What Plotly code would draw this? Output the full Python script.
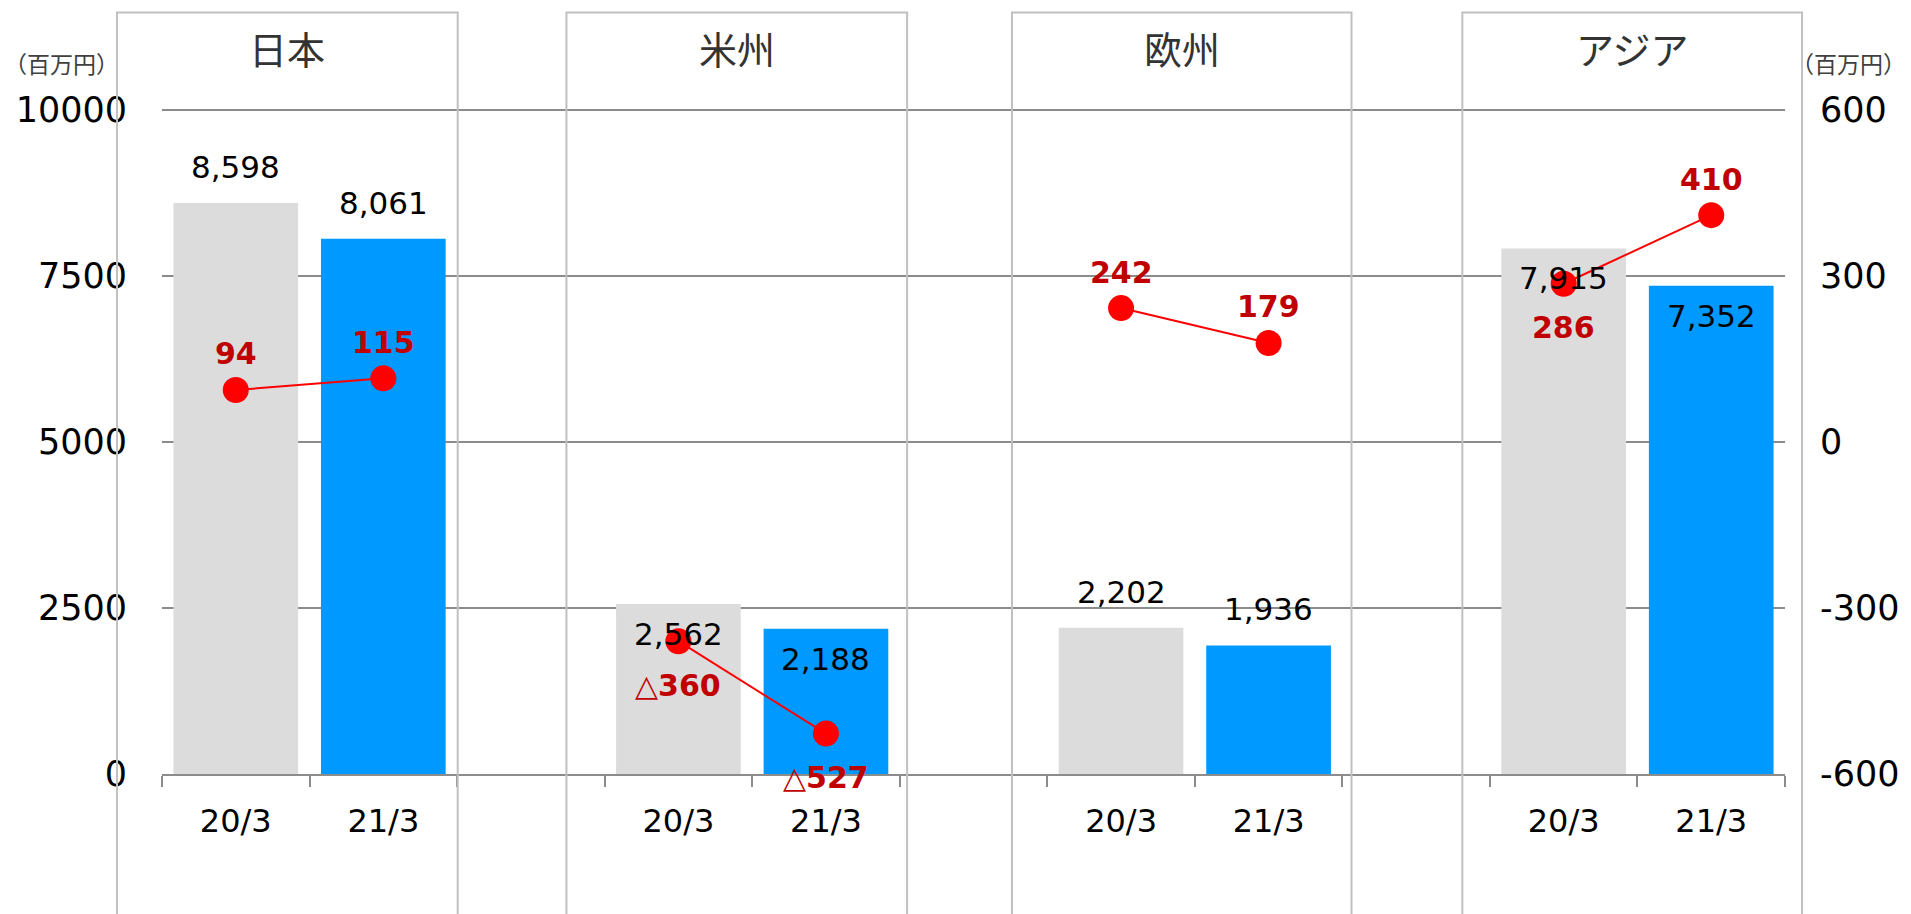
import plotly.graph_objects as go

# ---- data ----
regions = ["日本", "米州", "欧州", "アジア"]
periods = ["20/3", "21/3"]
sales_20 = [8598, 2562, 2202, 7915]
sales_21 = [8061, 2188, 1936, 7352]
profit_20 = [94, -360, 242, 286]
profit_21 = [115, -527, 179, 410]
sales_label_20 = ["above", "inside", "above", "inside"]
sales_label_21 = ["above", "inside", "above", "inside"]
profit_label_20 = ["above", "below", "above", "below"]
profit_label_21 = ["above", "below", "above", "above"]
y_ticks = [0, 2500, 5000, 7500, 10000]
y2_ticks = [-600, -300, 0, 300, 600]
unit = "（百万円）"

# ---- style ----
FONT = "DejaVu Sans, Verdana, Noto Sans CJK JP"
JP = "Noto Sans CJK JP, DejaVu Sans"
GRAY_BAR = "#dcdcdc"
BLUE_BAR = "#0099ff"
RED = "#ff0000"
DARK_RED = "#c00000"
GRID = "#8c8c8c"
BOX = "#c0c0c0"

# slot index on the category axis: two periods per region, one empty slot between regions
x20 = [3 * i for i in range(len(regions))]
x21 = [3 * i + 1 for i in range(len(regions))]

fig = go.Figure()
fig.add_trace(go.Bar(x=x20, y=sales_20, width=0.845, marker=dict(color=GRAY_BAR, line=dict(width=0)),
                     name=periods[0], hoverinfo="skip"))
fig.add_trace(go.Bar(x=x21, y=sales_21, width=0.845, marker=dict(color=BLUE_BAR, line=dict(width=0)),
                     name=periods[1], hoverinfo="skip"))

lx, ly = [], []
for i in range(len(regions)):
    lx += [x20[i], x21[i], None]
    ly += [profit_20[i], profit_21[i], None]
fig.add_trace(go.Scatter(x=lx, y=ly, yaxis="y2", mode="lines+markers", connectgaps=False,
                         line=dict(color=RED, width=2), marker=dict(color=RED, size=26),
                         hoverinfo="skip"))

ann = []
def fmt_profit(v):
    return f"△{abs(v)}" if v < 0 else f"{v}"

for xs, vals, pos in [(x20, sales_20, sales_label_20), (x21, sales_21, sales_label_21)]:
    for x, v, p in zip(xs, vals, pos):
        ann.append(dict(x=x, y=v, xref="x", yref="y", text=f"{v:,}", showarrow=False,
                        yshift=36 if p == "above" else -30,
                        font=dict(family=FONT, size=31, color="#000000")))
for xs, vals, pos in [(x20, profit_20, profit_label_20), (x21, profit_21, profit_label_21)]:
    for x, v, p in zip(xs, vals, pos):
        ann.append(dict(x=x, y=v, xref="x", yref="y2", text=f"<b>{fmt_profit(v)}</b>", showarrow=False,
                        yshift=36 if p == "above" else -44,
                        font=dict(family=FONT, size=30, color=DARK_RED)))

# region panels (paper coords)
panels = [(-0.0277, 0.1822), (0.2492, 0.4591), (0.5237, 0.7329), (0.8012, 1.0105)]
shapes = []
# top gridline (Plotly hides the gridline lying on the range edge)
shapes.append(dict(type="line", xref="paper", yref="paper", x0=0, x1=1, y0=1, y1=1,
                   line=dict(color=GRID, width=2), layer="below"))
for (a, b), name in zip(panels, regions):
    shapes.append(dict(type="rect", xref="paper", yref="paper", x0=a, x1=b, y0=-0.3, y1=1.147,
                       line=dict(color=BOX, width=2), fillcolor="rgba(0,0,0,0)", layer="above"))
    ann.append(dict(x=(a + b) / 2, y=1.0934, xref="paper", yref="paper", text=name, showarrow=False,
                    xanchor="center", yanchor="middle",
                    font=dict(family=JP, size=38, color="#333333")))

ann.append(dict(x=-0.0622, y=1.0708, xref="paper", yref="paper", text=unit, showarrow=False,
                xanchor="center", yanchor="middle", font=dict(family=JP, size=23, color="#404040")))
ann.append(dict(x=1.0757, y=1.0708, xref="paper", yref="paper", text=unit, showarrow=False,
                xanchor="right", yanchor="middle", font=dict(family=JP, size=23, color="#404040")))

tickvals_x = sorted(x20 + x21)
ticktext_x = [periods[0] if t in x20 else periods[1] for t in tickvals_x]

fig.update_layout(
    width=1911, height=914,
    margin=dict(l=162, r=124, t=110, b=140, pad=0),
    paper_bgcolor="white", plot_bgcolor="white",
    showlegend=False, barmode="overlay",
    font=dict(family=FONT, color="#000000"),
    xaxis=dict(range=[-0.5, 10.5], tickmode="array", tickvals=tickvals_x, ticktext=ticktext_x,
               ticks="", showgrid=False, zeroline=False,
               showline=True, linecolor=GRID, linewidth=2,
               tickfont=dict(family=FONT, size=32, color="#000000"), ticklabelstandoff=18,
               minor=dict(tickmode="array", tickvals=[v - 0.5 for v in range(12)], ticks="outside",
                          ticklen=11, tickwidth=2, tickcolor=GRID, showgrid=False)),
    yaxis=dict(range=[0, 10000], tickmode="array", tickvals=y_ticks, ticktext=[str(v) for v in y_ticks],
               showgrid=True, gridcolor=GRID, gridwidth=2, zeroline=False, showline=False, ticks="",
               tickfont=dict(family=FONT, size=35, color="#000000"), ticklabelstandoff=34),
    yaxis2=dict(range=[-600, 600], overlaying="y", side="right", tickmode="array", tickvals=y2_ticks,
                ticktext=[str(v) for v in y2_ticks], showgrid=False, zeroline=False, showline=False,
                ticks="", tickfont=dict(family=FONT, size=35, color="#000000"), ticklabelstandoff=34),
    shapes=shapes, annotations=ann,
)

fig.write_html("out.html", config={"displayModeBar": False},
               post_script="document.body.style.margin='0';document.body.style.overflow='hidden';")
